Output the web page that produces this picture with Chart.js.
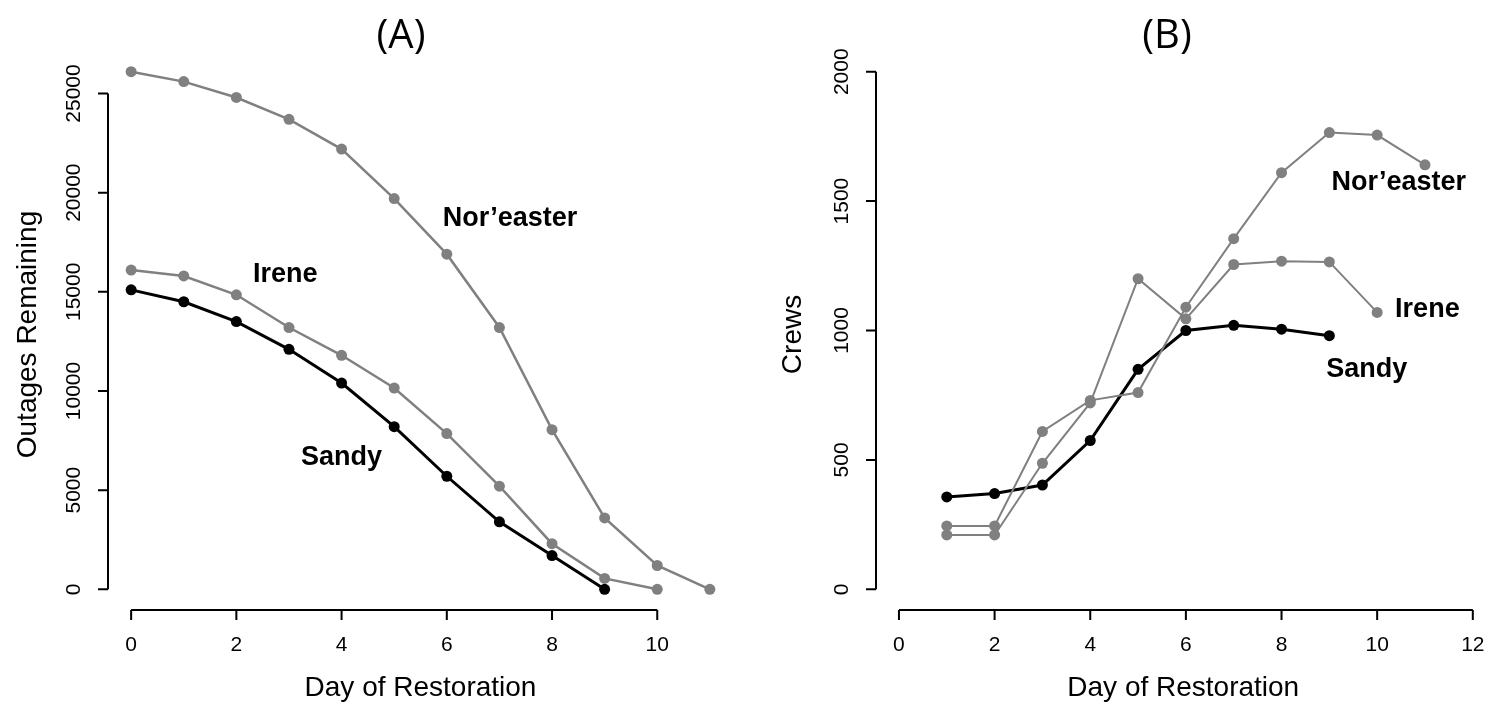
<!DOCTYPE html>
<html>
<head>
<meta charset="utf-8">
<script src="https://cdn.jsdelivr.net/npm/chart.js@4.4.1/dist/chart.umd.min.js"></script>
<style>
  html, body { margin: 0; padding: 0; background: #fff; }
  #wrap { position: relative; width: 1496px; height: 707px; }
  canvas { position: absolute; top: 0; }
  #chartA { left: 0; }
  #chartB { left: 748px; }
</style>
</head>
<body>
<div id="wrap">
  <canvas id="chartA" width="748" height="707"></canvas>
  <canvas id="chartB" width="748" height="707"></canvas>
</div>
<script>
// Panel A: outages remaining per day of restoration
const daysA = [0, 1, 2, 3, 4, 5, 6, 7, 8, 9, 10, 11];
const noreasterOutages = [26100, 25600, 24800, 23700, 22200, 19700, 16900, 13200, 8050, 3600, 1200, 0];
const ireneOutages = [16100, 15800, 14850, 13200, 11800, 10150, 7850, 5200, 2300, 550, 0];
const sandyOutages = [15100, 14500, 13500, 12100, 10400, 8200, 5700, 3400, 1700, 0];
const xTicksA = [0, 2, 4, 6, 8, 10];
const yTicksA = [0, 5000, 10000, 15000, 20000, 25000];

// Panel B: crews per day of restoration
const daysB = [1, 2, 3, 4, 5, 6, 7, 8, 9, 10, 11];
const noreasterCrews = [245, 245, 610, 730, 760, 1090, 1355, 1610, 1765, 1755, 1640];
const ireneCrews = [210, 210, 487, 720, 1200, 1045, 1255, 1268, 1265, 1070];
const sandyCrews = [357, 370, 403, 575, 850, 1000, 1020, 1005, 980];
const xTicksB = [0, 2, 4, 6, 8, 10, 12];
const yTicksB = [0, 500, 1000, 1500, 2000];

const GRAY = 'rgb(128,128,128)';
const BLACK = '#000000';
const FONT = '"Liberation Sans", Arial, sans-serif';

function pts(xs, ys) {
  return ys.map((y, i) => ({ x: xs[i], y: y }));
}

function series(label, xs, ys, color, width) {
  return {
    label: label,
    data: pts(xs, ys),
    borderColor: color,
    backgroundColor: color,
    borderWidth: width,
    pointRadius: 5.5,
    pointHoverRadius: 5.5,
    pointBorderWidth: 0,
    pointBackgroundColor: color,
    tension: 0
  };
}

// R-style axes: line only between first and last tick, rotated y labels
const rAxes = {
  id: 'rAxes',
  afterDatasetsDraw(chart, args, o) {
    const ctx = chart.ctx;
    const xs = chart.scales.x, ys = chart.scales.y;
    const area = chart.chartArea;
    ctx.save();
    ctx.strokeStyle = '#000';
    ctx.fillStyle = '#000';
    ctx.lineWidth = 2;

    // y axis
    const y0 = ys.getPixelForValue(o.yTicks[0]);
    const y1 = ys.getPixelForValue(o.yTicks[o.yTicks.length - 1]);
    ctx.beginPath();
    ctx.moveTo(area.left, y0);
    ctx.lineTo(area.left, y1);
    o.yTicks.forEach(v => {
      const p = ys.getPixelForValue(v);
      ctx.moveTo(area.left, p);
      ctx.lineTo(area.left - 10, p);
    });
    ctx.stroke();
    ctx.font = '21px ' + FONT;
    ctx.textAlign = 'center';
    ctx.textBaseline = 'middle';
    o.yTicks.forEach(v => {
      const p = ys.getPixelForValue(v);
      ctx.save();
      ctx.translate(area.left - 34, p);
      ctx.rotate(-Math.PI / 2);
      ctx.fillText(String(v), 0, 0);
      ctx.restore();
    });

    // x axis
    const x0 = xs.getPixelForValue(o.xTicks[0]);
    const x1 = xs.getPixelForValue(o.xTicks[o.xTicks.length - 1]);
    ctx.beginPath();
    ctx.moveTo(x0, area.bottom);
    ctx.lineTo(x1, area.bottom);
    o.xTicks.forEach(v => {
      const p = xs.getPixelForValue(v);
      ctx.moveTo(p, area.bottom);
      ctx.lineTo(p, area.bottom + 10);
    });
    ctx.stroke();
    o.xTicks.forEach(v => {
      ctx.fillText(String(v), xs.getPixelForValue(v), area.bottom + 35);
    });

    // axis titles
    ctx.font = '28px ' + FONT;
    ctx.fillText(o.xTitle, (area.left + area.right) / 2, 688);
    ctx.save();
    ctx.translate(o.yTitleX, (area.top + area.bottom) / 2 + 4);
    ctx.rotate(-Math.PI / 2);
    ctx.fillText(o.yTitle, 0, 0);
    ctx.restore();

    // panel title
    ctx.font = '40px "Open Sans", sans-serif';
    ctx.fillText(o.title, o.titleX, 37);

    // series labels placed in data coordinates
    ctx.font = 'bold 27px ' + FONT;
    o.notes.forEach(n => {
      ctx.fillText(n.text, xs.getPixelForValue(n.x), ys.getPixelForValue(n.y));
    });
    ctx.restore();
  }
};

function baseOptions(xmin, xmax, ymin, ymax, pad, axes) {
  return {
    responsive: false,
    animation: false,
    devicePixelRatio: 1,
    layout: { padding: pad },
    plugins: {
      legend: { display: false },
      tooltip: { enabled: false },
      rAxes: axes
    },
    scales: {
      x: { type: 'linear', display: false, min: xmin, max: xmax },
      y: { type: 'linear', display: false, min: ymin, max: ymax }
    }
  };
}

new Chart(document.getElementById('chartA'), {
  type: 'line',
  data: {
    datasets: [
      series("Nor'easter", daysA, noreasterOutages, GRAY, 2.5),
      series('Irene', daysA, ireneOutages, GRAY, 2.5),
      series('Sandy', daysA, sandyOutages, BLACK, 3)
    ]
  },
  options: baseOptions(-0.44, 11.44, -1044, 27144,
    { left: 108, right: 15, top: 51, bottom: 97 },
    {
      xTicks: xTicksA, yTicks: yTicksA,
      xTitle: 'Day of Restoration', yTitle: 'Outages Remaining', yTitleX: 28,
      title: '(A)', titleX: 401,
      notes: [
        { text: 'Nor\u2019easter', x: 7.2, y: 18700 },
        { text: 'Irene', x: 2.93, y: 15850 },
        { text: 'Sandy', x: 4.0, y: 6630 }
      ]
    }),
  plugins: [rAxes]
});

new Chart(document.getElementById('chartB'), {
  type: 'line',
  data: {
    datasets: [
      series("Nor'easter", daysB, noreasterCrews, GRAY, 2),
      series('Irene', daysB, ireneCrews, GRAY, 2),
      series('Sandy', daysB, sandyCrews, BLACK, 3)
    ]
  },
  options: baseOptions(-0.48, 12.37, -80, 2080,
    { left: 128, right: 0, top: 51, bottom: 97 },
    {
      xTicks: xTicksB, yTicks: yTicksB,
      xTitle: 'Day of Restoration', yTitle: 'Crews', yTitleX: 45,
      title: '(B)', titleX: 419,
      notes: [
        { text: 'Nor\u2019easter', x: 10.45, y: 1570 },
        { text: 'Irene', x: 11.05, y: 1080 },
        { text: 'Sandy', x: 9.78, y: 850 }
      ]
    }),
  plugins: [rAxes]
});
</script>
</body>
</html>
